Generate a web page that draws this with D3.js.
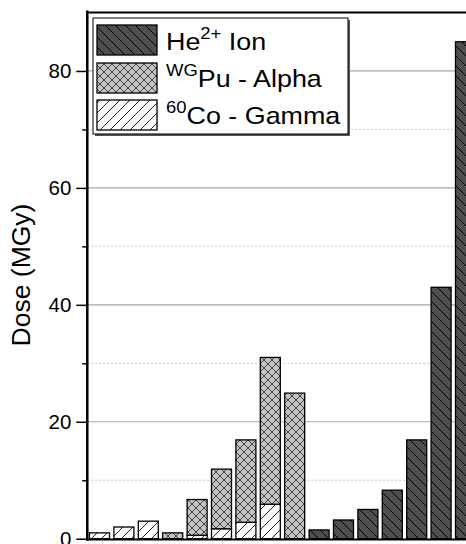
<!DOCTYPE html>
<html>
<head>
<meta charset="utf-8">
<script src="https://cdn.jsdelivr.net/npm/d3@7"></script>
<style>
  html, body { margin: 0; padding: 0; background: #fff; }
  svg { display: block; }
  text { font-family: Arial, "Liberation Sans", sans-serif; fill: #000; }
</style>
</head>
<body>
<svg id="chart" width="466" height="544"></svg>
<script>
// ---- data ----
const categories = ["S1","S2","S3","S4","S5","S6","S7","S8","S9","S10","S11","S12","S13","S14","S15","S16"];
const gammaDose = [1.0, 2.0, 3.0, 0, 0.6, 1.7, 2.8, 5.9, 0, 0, 0, 0, 0, 0, 0, 0];
const alphaDose = [0, 0, 0, 1.0, 6.1, 10.2, 14.1, 25.1, 24.9, 0, 0, 0, 0, 0, 0, 0];
const heDose    = [0, 0, 0, 0, 0, 0, 0, 0, 0, 1.5, 3.2, 5.0, 8.3, 16.9, 43, 85];
const yMajorTicks = [0, 20, 40, 60, 80];
const yMinorTicks = [10, 30, 50, 70];
const legendLabels = [
  {base: "He", sup: "2+", rest: " Ion", key: "he", supFirst: false},
  {base: "", sup: "WG", rest: "Pu - Alpha", key: "alpha", supFirst: true},
  {base: "", sup: "60", rest: "Co - Gamma", key: "gamma", supFirst: true}
];

(function () {
const svg = d3.select("#chart");
const pLeft = 87.3, pRight = 477.7, pTop = 12.5, pBottom = 538.7;

const x = d3.scaleBand().domain(categories).range([pLeft, pRight]).paddingInner(0.18).paddingOuter(0.09);
const y = d3.scaleLinear().domain([0, 90]).range([pBottom, pTop]);

// ---- patterns ----
const defs = svg.append("defs");
function hatch(id, bg, dirs, size, stroke, sw) {
  const p = defs.append("pattern").attr("id", id).attr("patternUnits", "userSpaceOnUse")
    .attr("width", size).attr("height", size);
  p.append("rect").attr("width", size).attr("height", size).attr("fill", bg);
  dirs.forEach(d => {
    if (d === "back") {
      p.append("path").attr("d", `M0,0 L${size},${size} M${-size},0 L${size},${2*size} M0,${-size} L${2*size},${size}`)
        .attr("stroke", stroke).attr("stroke-width", sw);
    } else {
      p.append("path").attr("d", `M0,${size} L${size},0 M${-size},${size} L${size},${-size} M0,${2*size} L${2*size},0`)
        .attr("stroke", stroke).attr("stroke-width", sw);
    }
  });
}
hatch("pHe", "#4f4f4f", ["back"], 10, "#000", 1);
hatch("pAlpha", "#c4c4c4", ["back", "fwd"], 8, "#333", 0.9);
hatch("pGamma", "#ffffff", ["fwd"], 10, "#222", 1);
const fills = {he: "url(#pHe)", alpha: "url(#pAlpha)", gamma: "url(#pGamma)"};

// ---- grid ----
svg.append("g").selectAll("line").data(yMajorTicks.filter(d => d > 0)).join("line")
  .attr("x1", pLeft).attr("x2", 466).attr("y1", d => y(d)).attr("y2", d => y(d))
  .attr("stroke", "#a8a8a8").attr("stroke-width", 1.2);
svg.append("g").selectAll("line").data(yMinorTicks).join("line")
  .attr("x1", pLeft).attr("x2", 466).attr("y1", d => y(d)).attr("y2", d => y(d))
  .attr("stroke", "#c8c8c8").attr("stroke-width", 1).attr("stroke-dasharray", "2,2");

// ---- bars ----
const segs = [];
categories.forEach((c, i) => {
  if (gammaDose[i] > 0) segs.push({c, y0: 0, y1: gammaDose[i], key: "gamma"});
  if (alphaDose[i] > 0) segs.push({c, y0: gammaDose[i], y1: gammaDose[i] + alphaDose[i], key: "alpha"});
  if (heDose[i] > 0) segs.push({c, y0: 0, y1: heDose[i], key: "he"});
});
svg.append("g").selectAll("rect").data(segs).join("rect")
  .attr("x", d => x(d.c)).attr("width", x.bandwidth())
  .attr("y", d => y(d.y1)).attr("height", d => y(d.y0) - y(d.y1))
  .attr("fill", d => fills[d.key]).attr("stroke", "#000").attr("stroke-width", 1.3);

// ---- axes ----
const yAxis = d3.axisLeft(y).tickValues(yMajorTicks).tickSize(11).tickPadding(5).tickFormat(d3.format("d"));
const ga = svg.append("g").attr("transform", `translate(${pLeft},0)`).call(yAxis);
ga.select(".domain").remove();
ga.selectAll(".tick line").attr("stroke", "#000").attr("stroke-width", 1.5);
ga.selectAll(".tick text").attr("font-size", 20.5).attr("fill", "#000")
  .style("font-family", "Arial, 'Liberation Sans', sans-serif");
const yMinor = d3.axisLeft(y).tickValues(yMinorTicks).tickSize(5).tickFormat("");
const gm = svg.append("g").attr("transform", `translate(${pLeft},0)`).call(yMinor);
gm.select(".domain").remove();
gm.selectAll(".tick line").attr("stroke", "#000").attr("stroke-width", 1.5);

// frame lines
svg.append("line").attr("x1", pLeft).attr("x2", pLeft).attr("y1", pTop - 2).attr("y2", pBottom + 2)
  .attr("stroke", "#000").attr("stroke-width", 2.5);
svg.append("line").attr("x1", pLeft).attr("x2", 466).attr("y1", pBottom + 0.8).attr("y2", pBottom + 0.8)
  .attr("stroke", "#000").attr("stroke-width", 2.2);
svg.append("line").attr("x1", pLeft).attr("x2", 466).attr("y1", pTop).attr("y2", pTop)
  .attr("stroke", "#000").attr("stroke-width", 1.8);

// y label
svg.append("text").attr("transform", `translate(30,275) rotate(-90)`)
  .attr("text-anchor", "middle").attr("font-size", 26.5).text("Dose (MGy)");

// ---- legend ----
const lg = svg.append("g");
lg.append("rect").attr("x", 95).attr("y", 20).attr("width", 255).attr("height", 116).attr("fill", "#555");
lg.append("rect").attr("x", 93).attr("y", 18).attr("width", 255).attr("height", 116)
  .attr("fill", "#fff").attr("stroke", "#000").attr("stroke-width", 1);
const rowY = [25, 63, 100];
const baseY = [50, 87, 124];
legendLabels.forEach((L, i) => {
  lg.append("rect").attr("x", 97).attr("y", rowY[i]).attr("width", 60).attr("height", 30)
    .attr("fill", fills[L.key]).attr("stroke", "#000").attr("stroke-width", 1.3);
  const t = lg.append("text").attr("transform", `translate(166,${baseY[i]}) scale(1.12,1)`)
    .attr("x", 0).attr("y", 0).attr("font-size", 24);
  if (L.supFirst) {
    t.append("tspan").attr("font-size", 16.5).attr("dy", -11).text(L.sup);
    t.append("tspan").attr("dy", 11).text(L.rest);
  } else {
    t.append("tspan").text(L.base);
    t.append("tspan").attr("font-size", 16.5).attr("dy", -11).text(L.sup);
    t.append("tspan").attr("dy", 11).text(L.rest);
  }
});
})();
</script>
</body>
</html>
